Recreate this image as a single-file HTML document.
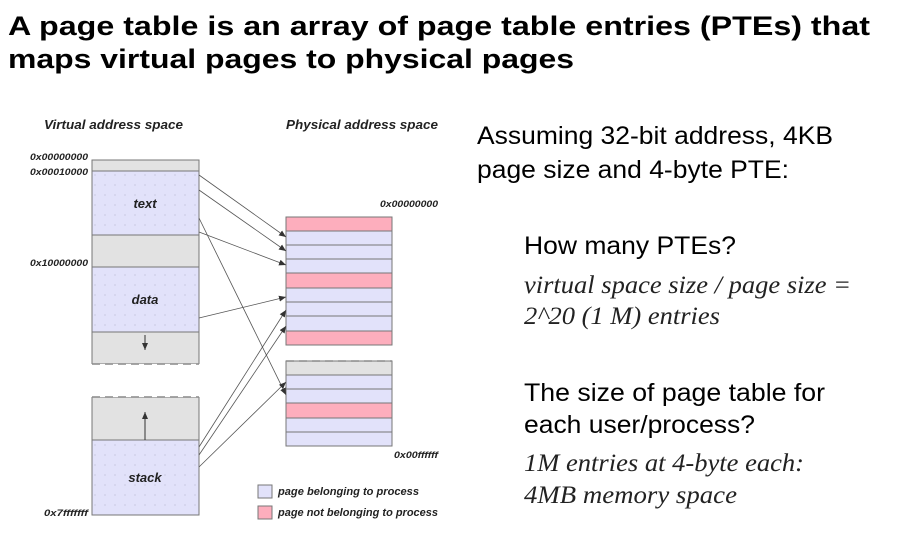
<!DOCTYPE html>
<html><head><meta charset="utf-8"><style>
html,body{margin:0;padding:0;background:#fff;}
svg{display:block;}
</style></head><body>
<svg width="902" height="549" viewBox="0 0 902 549" xmlns="http://www.w3.org/2000/svg">
<defs>
<pattern id="dots" width="10" height="10" patternUnits="userSpaceOnUse"><rect width="10" height="10" fill="#e2e2fa"/><circle cx="5" cy="5" r="0.6" fill="#b8b8d0"/></pattern>
<marker id="ah" markerWidth="8" markerHeight="8" refX="7" refY="3" orient="auto" markerUnits="userSpaceOnUse"><path d="M0,0 L7,3 L0,6 z" fill="#333"/></marker>
</defs>
<g font-family="Liberation Sans, sans-serif" font-weight="bold" font-size="27" fill="#000">
<text x="8" y="35" textLength="862" lengthAdjust="spacingAndGlyphs">A page table is an array of page table entries (PTEs)  that</text>
<text x="8" y="68" textLength="566" lengthAdjust="spacingAndGlyphs">maps virtual pages to physical pages</text>
</g>
<g stroke="#777" stroke-width="1">
<rect x="92" y="160" width="107" height="11" fill="#e2e2e2"/>
<rect x="92" y="171" width="107" height="64" fill="url(#dots)"/>
<rect x="92" y="235" width="107" height="32" fill="#e2e2e2"/>
<rect x="92" y="267" width="107" height="65" fill="url(#dots)"/>
<rect x="92" y="332" width="107" height="32" fill="#e2e2e2" />
<rect x="92" y="397" width="107" height="43" fill="#e2e2e2"/>
<rect x="92" y="440" width="107" height="75" fill="url(#dots)"/>
</g>
<rect x="91" y="364" width="110" height="33" fill="#fff"/>
<g stroke="#888" stroke-width="1.5" stroke-dasharray="8,5"><line x1="92" y1="364" x2="199" y2="364"/><line x1="92" y1="397" x2="199" y2="397"/></g>
<line x1="145" y1="335" x2="145" y2="350" stroke="#333" marker-end="url(#ah)"/>
<line x1="145" y1="440" x2="145" y2="412" stroke="#333" marker-end="url(#ah)"/>
<g stroke="#777" stroke-width="1">
<rect x="286" y="217" width="106" height="14" fill="#fdaebd"/>
<rect x="286" y="231" width="106" height="14" fill="#e2e2fa"/>
<rect x="286" y="245" width="106" height="14" fill="#e2e2fa"/>
<rect x="286" y="259" width="106" height="14" fill="#e2e2fa"/>
<rect x="286" y="273" width="106" height="15" fill="#fdaebd"/>
<rect x="286" y="288" width="106" height="14" fill="#e2e2fa"/>
<rect x="286" y="302" width="106" height="14" fill="#e2e2fa"/>
<rect x="286" y="316" width="106" height="15" fill="#e2e2fa"/>
<rect x="286" y="331" width="106" height="14" fill="#fdaebd"/>
<rect x="286" y="361" width="106" height="14" fill="#e2e2e2"/>
<rect x="286" y="375" width="106" height="14" fill="#e2e2fa"/>
<rect x="286" y="389" width="106" height="14" fill="#e2e2fa"/>
<rect x="286" y="403" width="106" height="15" fill="#fdaebd"/>
<rect x="286" y="418" width="106" height="14" fill="#e2e2fa"/>
<rect x="286" y="432" width="106" height="14" fill="#e2e2fa"/>
<rect x="258" y="485" width="14" height="13" fill="#e2e2fa"/>
<rect x="258" y="506" width="14" height="13" fill="#fdaebd"/>
</g>
<line x1="286" y1="361" x2="392" y2="361" stroke="#888" stroke-width="1.5" stroke-dasharray="8,5"/>
<g stroke="#555" stroke-width="0.8" fill="none" marker-end="url(#ah)">
<line x1="199" y1="175" x2="286" y2="237"/>
<line x1="199" y1="190" x2="286" y2="251"/>
<line x1="199" y1="232" x2="286" y2="265"/>
<line x1="199" y1="218" x2="286" y2="395"/>
<line x1="199" y1="318" x2="286" y2="297"/>
<line x1="199" y1="447" x2="286" y2="310"/>
<line x1="199" y1="455" x2="286" y2="326"/>
<line x1="199" y1="467" x2="286" y2="382"/>
</g>
<g font-family="Liberation Sans, sans-serif" font-style="italic" font-weight="bold" fill="#222">
<text x="44" y="129" font-size="12.5" textLength="139" lengthAdjust="spacingAndGlyphs">Virtual address space</text>
<text x="286" y="129" font-size="12.5" textLength="152" lengthAdjust="spacingAndGlyphs">Physical address space</text>
<g font-size="9.5">
<text x="30" y="160" textLength="58" lengthAdjust="spacingAndGlyphs">0x00000000</text>
<text x="30" y="175" textLength="58" lengthAdjust="spacingAndGlyphs">0x00010000</text>
<text x="30" y="266" textLength="58" lengthAdjust="spacingAndGlyphs">0x10000000</text>
<text x="44" y="516" textLength="44" lengthAdjust="spacingAndGlyphs">0x7fffffff</text>
<text x="380" y="207" textLength="58" lengthAdjust="spacingAndGlyphs">0x00000000</text>
<text x="394" y="458" textLength="44" lengthAdjust="spacingAndGlyphs">0x00ffffff</text>
</g>
<text x="145" y="208" font-size="13" text-anchor="middle">text</text>
<text x="145" y="304" font-size="13" text-anchor="middle">data</text>
<text x="145" y="482" font-size="13" text-anchor="middle">stack</text>
<text x="278" y="495" font-size="11" textLength="141" lengthAdjust="spacingAndGlyphs">page belonging to process</text>
<text x="278" y="516" font-size="11" textLength="160" lengthAdjust="spacingAndGlyphs">page not belonging to process</text>
</g>
<g font-family="Liberation Sans, sans-serif" font-size="25" fill="#000">
<text x="477" y="144" textLength="356" lengthAdjust="spacingAndGlyphs">Assuming 32-bit address, 4KB</text>
<text x="477" y="178" textLength="312" lengthAdjust="spacingAndGlyphs">page size and 4-byte PTE:</text>
<text x="524" y="254" textLength="212" lengthAdjust="spacingAndGlyphs">How many PTEs?</text>
<text x="524" y="401" textLength="301" lengthAdjust="spacingAndGlyphs">The size of page table for</text>
<text x="524" y="433" textLength="231" lengthAdjust="spacingAndGlyphs">each user/process?</text>
</g>
<g font-family="Liberation Serif, serif" font-style="italic" font-size="25" fill="#222">
<text x="524" y="293" textLength="327" lengthAdjust="spacingAndGlyphs">virtual space size / page size =</text>
<text x="524" y="324" textLength="196" lengthAdjust="spacingAndGlyphs">2^20 (1 M) entries</text>
<text x="524" y="471" textLength="280" lengthAdjust="spacingAndGlyphs">1M entries at 4-byte each:</text>
<text x="524" y="503" textLength="213" lengthAdjust="spacingAndGlyphs">4MB memory space</text>
</g>
</svg>
</body></html>
